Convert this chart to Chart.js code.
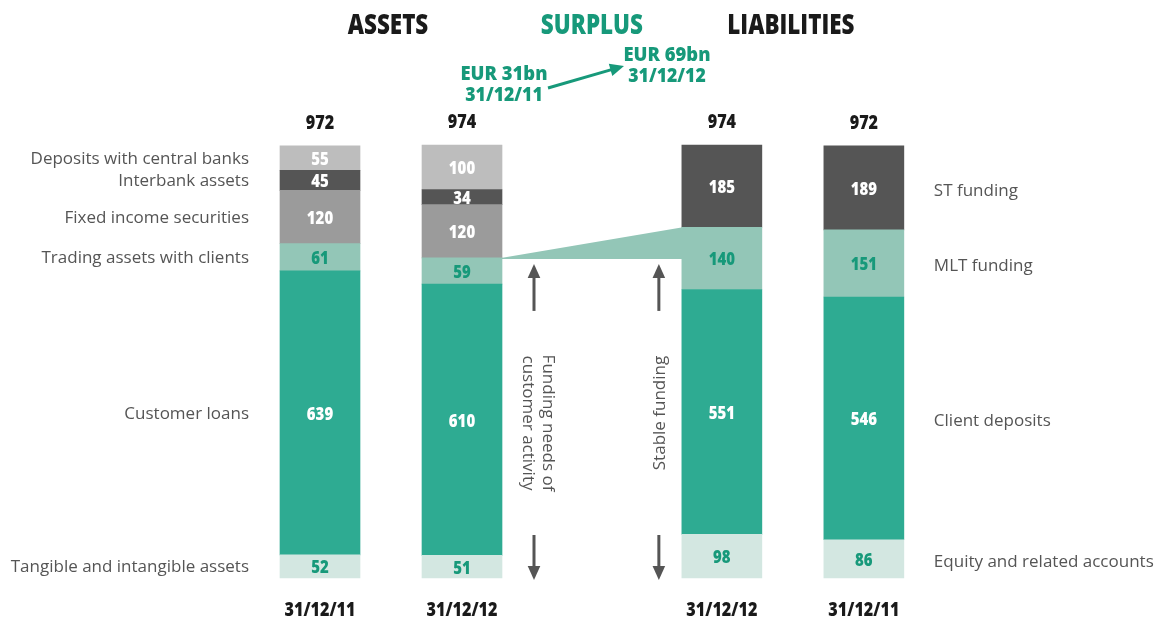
<!DOCTYPE html>
<html>
<head>
<meta charset="utf-8">
<script src="https://cdn.jsdelivr.net/npm/chart.js@4"></script>
<style>
  html, body { margin: 0; padding: 0; background: #fff; }
  #wrap { width: 1156px; height: 620px; position: relative; }
</style>
</head>
<body>
<div id="wrap"><canvas id="bsCanvas"></canvas></div>
<script>
// bars: assets 2011, assets 2012, liabilities 2012, liabilities 2011
const barDates = ['31/12/11', '31/12/12', '31/12/12', '31/12/11'];
const barPositions = [0, 1, 2.83, 3.83];

// assets (first two bars)
const tangibleAssets = [52, 51, null, null];
const customerLoans = [639, 610, null, null];
const tradingAssets = [61, 59, null, null];
const fixedIncome = [120, 120, null, null];
const interbankAssets = [45, 34, null, null];
const centralBankDeposits = [55, 100, null, null];

// liabilities (last two bars)
const equity = [null, null, 98, 86];
const clientDeposits = [null, null, 551, 546];
const mltFunding = [null, null, 140, 151];
const stFunding = [null, null, 185, 189];

const TEAL = '#2eab92';
const TEAL_LIGHT = '#93c6b7';
const TEAL_PALE = '#d3e7e1';
const TEAL_TEXT = '#17997a';
const BOLD = '"Open Sans", "Noto Sans", sans-serif';
const REG = '"Open Sans", "Noto Sans", sans-serif';

function pts(arr) {
    return arr.map((v, i) => ({ x: barPositions[i], y: v }));
}

function ds(label, arr, color, textColor, side) {
    return {
        label: label,
        data: pts(arr),
        backgroundColor: color,
        borderWidth: 0,
        barThickness: 80,
        clip: false,
        textColor: textColor,
        side: side
    };
}

const datasets = [
    ds('Tangible and intangible assets', tangibleAssets, TEAL_PALE, TEAL_TEXT, 'left'),
    ds('Customer loans', customerLoans, TEAL, '#fff', 'left'),
    ds('Trading assets with clients', tradingAssets, TEAL_LIGHT, TEAL_TEXT, 'left'),
    ds('Fixed income securities', fixedIncome, '#9b9b9b', '#fff', 'left'),
    ds('Interbank assets', interbankAssets, '#555555', '#fff', 'left'),
    ds('Deposits with central banks', centralBankDeposits, '#bdbdbd', '#fff', 'left'),
    ds('Equity and related accounts', equity, TEAL_PALE, TEAL_TEXT, 'right'),
    ds('Client deposits', clientDeposits, TEAL, '#fff', 'right'),
    ds('MLT funding', mltFunding, TEAL_LIGHT, TEAL_TEXT, 'right'),
    ds('ST funding', stFunding, '#555555', '#fff', 'right')
];

// bold text squeezed horizontally to look like the condensed original face
function squeezed(ctx, text, x, y, size, sx) {
    ctx.save();
    ctx.font = '800 ' + size + 'px ' + BOLD;
    ctx.translate(x, y);
    ctx.scale(sx, 1);
    ctx.fillText(text, 0, 0);
    ctx.restore();
}

function arrow(ctx, x1, y1, x2, y2, color, w, head) {
    const a = Math.atan2(y2 - y1, x2 - x1);
    ctx.save();
    ctx.strokeStyle = color;
    ctx.fillStyle = color;
    ctx.lineWidth = w;
    ctx.beginPath();
    ctx.moveTo(x1, y1);
    ctx.lineTo(x2 - Math.cos(a) * head * 0.8, y2 - Math.sin(a) * head * 0.8);
    ctx.stroke();
    ctx.beginPath();
    ctx.moveTo(x2, y2);
    ctx.lineTo(x2 - head * Math.cos(a) + head * 0.45 * Math.sin(a), y2 - head * Math.sin(a) - head * 0.45 * Math.cos(a));
    ctx.lineTo(x2 - head * Math.cos(a) - head * 0.45 * Math.sin(a), y2 - head * Math.sin(a) + head * 0.45 * Math.cos(a));
    ctx.closePath();
    ctx.fill();
    ctx.restore();
}

// trapezoid between the two middle bars, drawn behind the bars
const bridgePlugin = {
    id: 'bridge',
    beforeDatasetsDraw(chart) {
        const ctx = chart.ctx;
        const a = chart.getDatasetMeta(2).data[1];
        const b = chart.getDatasetMeta(8).data[2];
        ctx.save();
        ctx.fillStyle = TEAL_LIGHT;
        ctx.beginPath();
        ctx.moveTo(a.x + a.width / 2 - 1, a.y);
        ctx.lineTo(b.x - b.width / 2 + 1, b.y);
        ctx.lineTo(b.x - b.width / 2 + 1, a.y + 1);
        ctx.lineTo(a.x + a.width / 2 - 1, a.y + 1);
        ctx.closePath();
        ctx.fill();
        ctx.restore();
    }
};

const labelPlugin = {
    id: 'labels',
    afterDatasetsDraw(chart) {
        const ctx = chart.ctx;
        ctx.save();
        ctx.textBaseline = 'middle';
        ctx.textAlign = 'center';

        const tops = [Infinity, Infinity, Infinity, Infinity];
        const totals = [0, 0, 0, 0];

        chart.data.datasets.forEach((d, di) => {
            const meta = chart.getDatasetMeta(di);
            meta.data.forEach((el, i) => {
                const v = d.data[i].y;
                if (v == null) return;
                totals[i] += v;
                tops[i] = Math.min(tops[i], el.y);
                const cy = (el.y + el.base) / 2;
                ctx.fillStyle = d.textColor;
                ctx.textAlign = 'center';
                squeezed(ctx, String(v), el.x, cy + 2, 17, 0.88);

                // category names beside the outer bars
                ctx.font = '17px ' + REG;
                ctx.fillStyle = '#555';
                if (d.side === 'left' && i === 0) {
                    ctx.textAlign = 'right';
                    ctx.fillText(d.label, el.x - el.width / 2 - 31, cy + 1);
                }
                if (d.side === 'right' && i === 3) {
                    ctx.textAlign = 'left';
                    ctx.fillText(d.label, el.x + el.width / 2 + 30, cy + 3);
                }
            });
        });

        // totals and dates
        const base = chart.getDatasetMeta(0).data[0].base;
        const xs = [0, 1, 2, 3].map(i => chart.scales.x.getPixelForValue(barPositions[i]));
        ctx.textAlign = 'center';
        ctx.fillStyle = '#1a1a1a';
        xs.forEach((x, i) => {
            squeezed(ctx, String(totals[i]), x, tops[i] - 22, 19, 0.85);
            squeezed(ctx, barDates[i], x, base + 33, 19, 0.85);
        });

        // headers
        squeezed(ctx, 'ASSETS', (xs[0] + xs[1]) / 2 - 3, 26, 28, 0.8);
        squeezed(ctx, 'LIABILITIES', (xs[2] + xs[3]) / 2 - 2, 26, 28, 0.8);
        ctx.fillStyle = TEAL_TEXT;
        squeezed(ctx, 'SURPLUS', (xs[1] + xs[2]) / 2, 26, 28, 0.8);

        // surplus evolution
        squeezed(ctx, 'EUR 31bn', 504, 74, 20, 0.92);
        squeezed(ctx, '31/12/11', 504, 95, 20, 0.88);
        squeezed(ctx, 'EUR 69bn', 667, 55, 20, 0.92);
        squeezed(ctx, '31/12/12', 667, 76, 20, 0.88);
        arrow(ctx, 548, 88, 624, 66, TEAL_TEXT, 3, 14);

        // funding arrows and rotated notes
        const gap1 = xs[1] + 40 + 32;
        const gap2 = xs[2] - 40 - 23;
        const upTop = chart.getDatasetMeta(2).data[1].y + 6;
        [gap1, gap2].forEach(x => {
            arrow(ctx, x, upTop + 47, x, upTop, '#555', 3, 14);
            arrow(ctx, x, base - 43, x, base + 2, '#555', 3, 14);
        });

        ctx.fillStyle = '#555';
        ctx.font = '17px ' + REG;
        ctx.save();
        ctx.translate(538, 423);
        ctx.rotate(Math.PI / 2);
        ctx.fillText('Funding needs of', 0, -10);
        ctx.fillText('customer activity', 0, 10);
        ctx.restore();

        ctx.save();
        ctx.translate(660, 413);
        ctx.rotate(-Math.PI / 2);
        ctx.fillText('Stable funding', 0, 0);
        ctx.restore();

        ctx.restore();
    }
};

const ctx = document.getElementById('bsCanvas').getContext('2d');
const bsChart = new Chart(ctx, {
    type: 'bar',
    data: { datasets: datasets },
    options: {
        responsive: true,
        maintainAspectRatio: false,
        animation: false,
        layout: { padding: { left: 249, right: 197, top: 145, bottom: 42 } },
        plugins: {
            legend: { display: false },
            tooltip: { enabled: false }
        },
        scales: {
            x: { type: 'linear', stacked: true, display: false, offset: false, min: -0.5, max: 4.5 },
            y: { stacked: true, display: false, min: 0, max: 974 }
        }
    },
    plugins: [bridgePlugin, labelPlugin]
});
</script>
</body>
</html>
